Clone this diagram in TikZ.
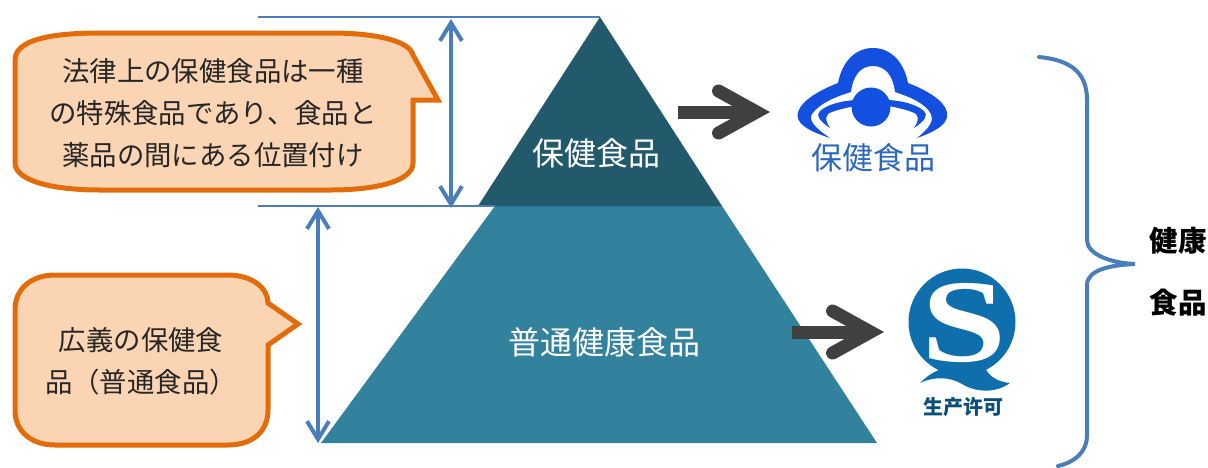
\documentclass[tikz,border=0pt]{standalone}
\usepackage{fontspec}
\usetikzlibrary{arrows.meta}
\newfontfamily\jpfont{Noto Sans CJK JP}
\newfontfamily\scfont{Noto Sans CJK SC}
\newfontfamily\logofont{Liberation Serif}
\definecolor{pyrdark}{HTML}{225A6B}
\definecolor{pyrlight}{HTML}{33829D}
\definecolor{callline}{HTML}{E36C0A}
\definecolor{callfill}{HTML}{FBD4B4}
\definecolor{rule}{HTML}{4A7EBB}
\definecolor{logoblue}{HTML}{1450E0}
\definecolor{logotext}{HTML}{2A68C0}
\definecolor{logoteal}{HTML}{0F6FAD}
\tikzset{
	callout/.style={draw=callline, fill=callfill, line width=5pt, line join=miter},
	calltext/.style={align=center, text=black!85, font=\jpfont\fontsize{27.4}{42}\selectfont},
	pyrtext/.style={text=white, font=\jpfont\fontsize{32}{36}\selectfont},
	sidetext/.style={text=black, font=\jpfont\bfseries\fontsize{28.5}{28}\selectfont},
	level/.style={draw=rule, line width=2pt},
	span/.style={draw=rule, line width=4pt, {Straight Barb[length=18pt,width=22pt]}-{Straight Barb[length=18pt,width=22pt]}},
	bigarrow/.style={draw=black!75, line width=13pt, -{Straight Barb[length=38pt,width=42pt,line cap=round]}},
}
\begin{document}
\begin{tikzpicture}[x=1pt, y=-1pt]
	\useasboundingbox (0,0) rectangle (1208,467);

	% pyramid
	\fill[pyrlight] (495,206) -- (722,206) -- (877,443) -- (321,443) -- cycle;
	\fill[pyrdark] (600,17) -- (722,206) -- (478,206) -- cycle;
	\node[pyrtext] (upper) at (596,153) {保健食品};
	\node[pyrtext] (lower) at (604,342) {普通健康食品};

	% callouts
	\draw[callout] (15,60) .. controls (15,40) and (50,33) .. (100,33) -- (330,33)
		.. controls (380,33) and (410,42) .. (413,55) -- (438,100) -- (413,100) -- (413,163)
		.. controls (413,180) and (380,190) .. (330,190) -- (100,190)
		.. controls (50,190) and (15,180) .. (15,163) -- cycle;
	\node[calltext] (law) at (213,113) {法律上の保健食品は一種\\の特殊食品であり、食品と\\薬品の間にある位置付け};
	\draw[callout] (15,310) .. controls (15,288) and (32,275) .. (55,275) -- (228,275)
		.. controls (252,275) and (268,288) .. (268,303) -- (298,324) -- (268,345) -- (268,410)
		.. controls (268,432) and (252,445) .. (228,445) -- (55,445)
		.. controls (32,445) and (15,432) .. (15,410) -- cycle;
	\node[calltext] (broad) at (141,361) {広義の保健食\\品（普通食品）};

	% spans and levels
	\coordinate (t1) at (258,17);
	\coordinate (t2) at (600,17);
	\coordinate (m1) at (258,206);
	\coordinate (m2) at (495,206);
	\coordinate (a1) at (451,19);
	\coordinate (a2) at (451,208);
	\coordinate (b1) at (318,207);
	\coordinate (b2) at (318,443);
	\path[level]
		(t1) edge (t2)
		(m1) edge (m2);
	\draw[span] (a1) -- (a2);
	\draw[span] (b1) -- (b2);

	% arrows to logos
	\coordinate (p1) at (678,112);
	\coordinate (p2) at (770,112);
	\coordinate (q1) at (792,332);
	\coordinate (q2) at (884,332);
	\draw[bigarrow] (p1) -- (p2);
	\draw[bigarrow] (q1) -- (q2);

	% upper logo
	\fill[logoblue] (830,138) .. controls (805,130) and (795,122) .. (798,112)
		.. controls (802,100) and (820,90) .. (838,83)
		.. controls (842,62) and (855,48) .. (873,48)
		.. controls (891,48) and (904,62) .. (908,83)
		.. controls (926,90) and (944,100) .. (947,112)
		.. controls (949,122) and (940,130) .. (917,138)
		.. controls (930,128) and (934,120) .. (931,114)
		.. controls (925,103) and (910,97) .. (895,92)
		.. controls (893,75) and (885,66) .. (873,66)
		.. controls (861,66) and (853,75) .. (851,92)
		.. controls (835,97) and (820,103) .. (812,114)
		.. controls (808,120) and (815,128) .. (830,138) -- cycle;
	\fill[logoblue] (830,128) .. controls (818,120) and (816,115) .. (820,111)
		.. controls (828,104) and (842,101) .. (855,100)
		-- (855,106) .. controls (845,108) and (832,111) .. (828,114)
		.. controls (825,118) and (826,122) .. (830,128) -- cycle;
	\fill[logoblue] (914,128) .. controls (926,120) and (928,115) .. (924,111)
		.. controls (916,104) and (902,101) .. (889,100)
		-- (889,106) .. controls (899,108) and (912,111) .. (916,114)
		.. controls (919,118) and (918,122) .. (914,128) -- cycle;
	\fill[logoblue] (871,107) circle (19.5);
	\node[text=logotext, font=\scfont\fontsize{31}{31}\selectfont] (upperlogo) at (873,158) {保健食品};

	% lower logo
	\fill[logoteal] (962,322) circle (53.5);
	\fill[logoteal] (920,383) .. controls (930,373) and (940,368) .. (950,368)
		-- (985,368) .. controls (990,378) and (1000,382) .. (1010,383)
		.. controls (995,394) and (975,392) .. (962,384)
		.. controls (950,377) and (935,376) .. (920,383) -- cycle;
	\node[text=white, xscale=1.3, transform shape, font=\logofont\bfseries\fontsize{118}{118}\selectfont] (slogo) at (964,323) {S};
	\node[text=logoteal!70!black, font=\scfont\bfseries\fontsize{20}{20}\selectfont] (lowerlogo) at (963,407) {生产许可};

	% brace
	\draw[rule, line width=4pt, line cap=round] (1039,57) .. controls (1070,60) and (1087,72) .. (1087,100)
		-- (1087,240) .. controls (1087,254) and (1110,263) .. (1135,264)
		.. controls (1110,265) and (1087,270) .. (1087,285)
		-- (1087,435) .. controls (1087,452) and (1075,462) .. (1058,466);
	\node[sidetext] (kenko) at (1178,241) {健康};
	\node[sidetext] (shoku) at (1178,303) {食品};
\end{tikzpicture}
\end{document}
